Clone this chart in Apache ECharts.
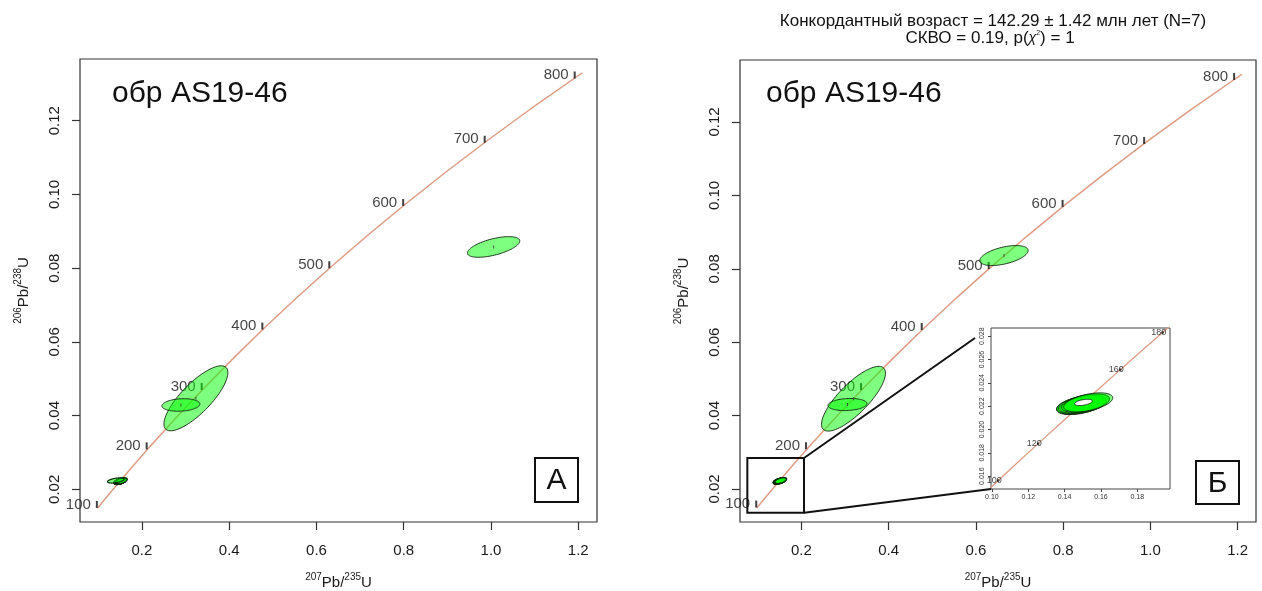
<!DOCTYPE html>
<html>
<head>
<meta charset="utf-8">
<script src="https://cdn.jsdelivr.net/npm/echarts@6/dist/echarts.min.js"></script>
<style>
  html, body { margin: 0; padding: 0; background: #fff; }
  #chart { width: 1262px; height: 591px; }
</style>
</head>
<body>
<div id="chart"></div>
<script>
// Wetherill concordia, tabulated by age (Ma): 207Pb/235U and 206Pb/238U
const concAges = [95, 100, 110, 120, 130, 140, 150, 160, 170, 180, 190, 200, 250, 300, 350, 400, 450, 500, 550, 600, 650, 700, 750, 800, 805];
const concX = [0.09808, 0.10350, 0.11442, 0.12545, 0.13659, 0.14784, 0.15920, 0.17067, 0.18226, 0.19396, 0.20577, 0.21771, 0.27917, 0.34374, 0.41156, 0.48281, 0.55766, 0.63628, 0.71887, 0.80563, 0.89677, 0.99251, 1.09308, 1.19873, 1.20958];
const concY = [0.014846, 0.015633, 0.017210, 0.018789, 0.020371, 0.021955, 0.023542, 0.025131, 0.026722, 0.028316, 0.029912, 0.031511, 0.039543, 0.047637, 0.055794, 0.064015, 0.072300, 0.080650, 0.089064, 0.097544, 0.106090, 0.114702, 0.123382, 0.132129, 0.133008];

// Age markers on the concordia
const mainTickAges = [100, 200, 300, 400, 500, 600, 700, 800];
const insetTickAges = [100, 120, 140, 160, 180];

// Axis tick values
const xTicks = [0.2, 0.4, 0.6, 0.8, 1.0, 1.2];
const yTicks = [0.02, 0.04, 0.06, 0.08, 0.10, 0.12];
const insetXTicks = [0.10, 0.12, 0.14, 0.16, 0.18];
const insetYTicks = [0.016, 0.018, 0.020, 0.022, 0.024, 0.026, 0.028];

// Error ellipses: [x, sx, y, sy, rho]
const clusterEllipses = [
  [0.1488, 0.0130, 0.02206, 0.00078, 0.45],
  [0.1484, 0.0128, 0.02209, 0.00077, 0.45],
  [0.1494, 0.0138, 0.02212, 0.00080, 0.45],
  [0.1500, 0.0126, 0.02215, 0.00075, 0.48],
  [0.1506, 0.0140, 0.02220, 0.00082, 0.48],
  [0.1515, 0.0132, 0.02226, 0.00079, 0.48],
  [0.1530, 0.0135, 0.02232, 0.00082, 0.48]
];
const ellipsesA = [
  [0.1400, 0.0190, 0.02240, 0.00070, 0.50],
  [0.3237, 0.0733, 0.04469, 0.00882, 0.79],
  [0.2893, 0.0435, 0.04288, 0.00170, 0.15],
  [1.0060, 0.0600, 0.08575, 0.00280, 0.58]
];
const ellipsesB = [
  [0.3196, 0.0733, 0.04460, 0.00882, 0.79],
  [0.3058, 0.0447, 0.04302, 0.00165, 0.15],
  [0.6644, 0.0554, 0.08362, 0.00272, 0.50]
];
// Concordia age ellipse (142.29 Ma)
const concordiaAgeEllipse = [[0.1504, 0.0049, 0.02232, 0.00027, 0.45]];

// Magnified region and inset axis ranges
const zoomBoxX = [0.0763, 0.2062];
const zoomBoxY = [0.01354, 0.02845];
const insetXRange = [0.0995, 0.198];
const insetYRange = [0.0149, 0.0287];

const FONT = '"Liberation Sans", Arial, Helvetica, sans-serif';
const CONC_COLOR = '#de9c84';
const GREEN = 'rgba(0,255,0,0.5)';

const concData = concX.map((x, i) => [x, concY[i]]);
const tickData = ages => ages.map(a => {
  const i = concAges.indexOf(a);
  return [concX[i], concY[i], a];
});

function mainXAxis(gi, min, max) {
  return {
    type: 'value', gridIndex: gi, min: min, max: max,
    axisLine: { show: false },
    axisTick: { show: true, length: 8, customValues: xTicks, lineStyle: { color: '#333', width: 1.2 } },
    axisLabel: { customValues: xTicks, formatter: v => v.toFixed(1), fontSize: 15, color: '#1a1a1a', margin: 21, fontFamily: FONT },
    splitLine: { show: false },
    name: '{sup|207}{m|Pb/}{sup|235}{m|U}', nameLocation: 'middle', nameGap: 50, nameMoveOverlap: false,
    nameTextStyle: {
      fontFamily: FONT, color: '#1a1a1a',
      rich: {
        m: { fontSize: 15, lineHeight: 22, fontFamily: FONT, color: '#1a1a1a' },
        sup: { fontSize: 10, verticalAlign: 'top', fontFamily: FONT, color: '#1a1a1a' }
      }
    }
  };
}
function mainYAxis(gi, min, max, gap) {
  return {
    type: 'value', gridIndex: gi, min: min, max: max,
    axisLine: { show: false },
    axisTick: { show: true, length: 8, customValues: yTicks, lineStyle: { color: '#333', width: 1.2 } },
    axisLabel: { customValues: yTicks, formatter: v => v.toFixed(2), rotate: 90, fontSize: 15, color: '#1a1a1a', margin: 18, fontFamily: FONT },
    splitLine: { show: false },
    name: '{sup|206}{m|Pb/}{sup|238}{m|U}', nameLocation: 'middle', nameRotate: 90, nameGap: gap, nameMoveOverlap: false,
    nameTextStyle: {
      fontFamily: FONT, color: '#1a1a1a',
      rich: {
        m: { fontSize: 15, lineHeight: 22, fontFamily: FONT, color: '#1a1a1a' },
        sup: { fontSize: 10, verticalAlign: 'top', fontFamily: FONT, color: '#1a1a1a' }
      }
    }
  };
}

function ellipseSeries(gi, data, fill, z, strokeWidth) {
  return {
    type: 'custom', xAxisIndex: gi, yAxisIndex: gi, data: data, z: z, clip: true,
    encode: { x: 0, y: 2 },
    renderItem: function (params, api) {
      const cx = api.value(0), sx = api.value(1), cy = api.value(2), sy = api.value(3), rho = api.value(4);
      const k = Math.sqrt(1 - rho * rho);
      const pts = [];
      for (let i = 0; i < 90; i++) {
        const t = i / 90 * 2 * Math.PI;
        pts.push(api.coord([cx + sx * Math.cos(t), cy + sy * (rho * Math.cos(t) + k * Math.sin(t))]));
      }
      return {
        type: 'polygon', shape: { points: pts },
        style: { fill: fill, stroke: '#0e260e', lineWidth: strokeWidth }
      };
    }
  };
}
function concordiaSeries(gi, width) {
  return {
    type: 'line', xAxisIndex: gi, yAxisIndex: gi, data: concData, showSymbol: false, clip: true,
    lineStyle: { color: CONC_COLOR, width: width }, z: 2, silent: true
  };
}
function ageTickSeries(gi, ages) {
  return {
    type: 'scatter', xAxisIndex: gi, yAxisIndex: gi, data: tickData(ages), z: 3,
    symbol: 'rect', symbolSize: [2, 7], symbolOffset: [-3, -1],
    itemStyle: { color: '#111' },
    label: { show: true, position: 'left', distance: 5, formatter: p => p.value[2], fontSize: 15, color: '#111', fontFamily: FONT }
  };
}
function centerMarks(gi, data) {
  return {
    type: 'scatter', xAxisIndex: gi, yAxisIndex: gi, z: 6,
    data: data.map(e => [e[0], e[2]]),
    symbol: 'rect', symbolSize: [1, 3], itemStyle: { color: '#333' }
  };
}

const option = {
  animation: false,
  backgroundColor: '#fff',
  grid: [
    { left: 80, top: 59, width: 517, height: 463, show: true, borderColor: '#333', borderWidth: 1.2, backgroundColor: 'rgba(0,0,0,0)', outerBoundsMode: 'none' },
    { left: 740, top: 60, width: 516, height: 462, show: true, borderColor: '#333', borderWidth: 1.2, backgroundColor: 'rgba(0,0,0,0)', outerBoundsMode: 'none' },
    { left: 991, top: 328, width: 179, height: 161, show: true, borderColor: '#444', borderWidth: 1, backgroundColor: '#fff', outerBoundsMode: 'none', z: 5 }
  ],
  xAxis: [
    mainXAxis(0, 0.058, 1.243),
    mainXAxis(1, 0.0595, 1.242),
    {
      type: 'value', gridIndex: 2, min: insetXRange[0], max: insetXRange[1], z: 6,
      axisLine: { show: false },
      axisTick: { show: true, length: 3, customValues: insetXTicks, lineStyle: { color: '#444', width: 1 } },
      axisLabel: { customValues: insetXTicks, formatter: v => v.toFixed(2), fontSize: 7, color: '#333', margin: 5, fontFamily: FONT },
      splitLine: { show: false }
    }
  ],
  yAxis: [
    mainYAxis(0, 0.01113, 0.13674, 45),
    mainYAxis(1, 0.01101, 0.1369, 45),
    {
      type: 'value', gridIndex: 2, min: insetYRange[0], max: insetYRange[1], z: 6,
      axisLine: { show: false },
      axisTick: { show: true, length: 3, customValues: insetYTicks, lineStyle: { color: '#444', width: 1 } },
      axisLabel: { customValues: insetYTicks, formatter: v => v.toFixed(3), rotate: 90, fontSize: 7, color: '#333', margin: 5, fontFamily: FONT },
      splitLine: { show: false }
    }
  ],
  series: [
    concordiaSeries(0, 1.5),
    ageTickSeries(0, mainTickAges),
    ellipseSeries(0, clusterEllipses.concat(ellipsesA.slice(0, 1)), GREEN, 4, 1.2),
    ellipseSeries(0, ellipsesA.slice(1), GREEN, 4, 0.9),
    centerMarks(0, ellipsesA.slice(1)),

    concordiaSeries(1, 1.5),
    ageTickSeries(1, mainTickAges),
    ellipseSeries(1, clusterEllipses, GREEN, 4, 1.2),
    ellipseSeries(1, ellipsesB, GREEN, 4, 0.9),
    centerMarks(1, ellipsesB),

    Object.assign(concordiaSeries(2, 1.3), { z: 7 }),
    {
      type: 'scatter', xAxisIndex: 2, yAxisIndex: 2, data: tickData(insetTickAges), z: 7,
      symbol: 'circle', symbolSize: 2.5, itemStyle: { color: '#111' },
      label: { show: true, position: 'inside', offset: [-4, 0], formatter: p => p.value[2], fontSize: 9, color: '#111', fontFamily: FONT }
    },
    ellipseSeries(2, clusterEllipses, GREEN, 8, 0.9),
    ellipseSeries(2, concordiaAgeEllipse, '#fff', 9, 0.9)
  ]
};

const chart = echarts.init(document.getElementById('chart'), null, { renderer: 'canvas' });
chart.setOption(option);

// Annotation layer: title, sample names, panel letters, magnified region with connectors
const boxTL = chart.convertToPixel({ gridIndex: 1 }, [zoomBoxX[0], zoomBoxY[1]]);
const boxBR = chart.convertToPixel({ gridIndex: 1 }, [zoomBoxX[1], zoomBoxY[0]]);
const insetTL = chart.convertToPixel({ gridIndex: 2 }, [insetXRange[0], insetYRange[1]]);
const insetBL = chart.convertToPixel({ gridIndex: 2 }, [insetXRange[0], insetYRange[0]]);

function letterBox(x, y, w, h, letter) {
  return {
    type: 'group', x: x, y: y, z: 20,
    children: [
      { type: 'rect', shape: { x: 0, y: 0, width: w, height: h }, style: { fill: '#fff', stroke: '#111', lineWidth: 2 } },
      { type: 'text', x: w / 2, y: h / 2 + 1, style: { text: letter, fontSize: 30, fontFamily: FONT, fill: '#111', align: 'center', verticalAlign: 'middle' } }
    ]
  };
}

chart.setOption({
  graphic: [
    { type: 'text', x: 993, y: 21, z: 20, style: { text: 'Конкордантный возраст = 142.29 ± 1.42 млн лет (N=7)', fontSize: 17, fontFamily: FONT, fill: '#111', align: 'center', verticalAlign: 'middle' } },
    { type: 'text', x: 990, y: 38, z: 20, style: {
        text: 'СКВО = 0.19, p({g|χ}{s|2}) = 1', fontSize: 17, fontFamily: FONT, fill: '#111', align: 'center', verticalAlign: 'middle',
        rich: { g: { fontSize: 14, fontStyle: 'italic', fontFamily: FONT, fill: '#111' }, s: { fontSize: 7, verticalAlign: 'top', fontFamily: FONT, fill: '#111' } }
      } },
    { type: 'text', x: 112, y: 94, z: 20, style: { text: 'обр AS19-46', fontSize: 30, fontFamily: FONT, fill: '#111', align: 'left', verticalAlign: 'middle' } },
    { type: 'text', x: 766, y: 94, z: 20, style: { text: 'обр AS19-46', fontSize: 30, fontFamily: FONT, fill: '#111', align: 'left', verticalAlign: 'middle' } },
    letterBox(535, 458, 43, 44, 'А'),
    letterBox(1196, 461, 43, 43, 'Б'),
    { type: 'rect', z: 20, shape: { x: boxTL[0], y: boxTL[1], width: boxBR[0] - boxTL[0], height: boxBR[1] - boxTL[1] }, style: { fill: 'none', stroke: '#111', lineWidth: 2 } },
    { type: 'line', z: 20, shape: { x1: boxBR[0], y1: boxTL[1], x2: insetTL[0] - 16, y2: insetTL[1] + 10 }, style: { stroke: '#111', lineWidth: 2 } },
    { type: 'line', z: 20, shape: { x1: boxBR[0], y1: boxBR[1], x2: insetBL[0], y2: insetBL[1] }, style: { stroke: '#111', lineWidth: 2 } }
  ]
});
</script>
</body>
</html>
